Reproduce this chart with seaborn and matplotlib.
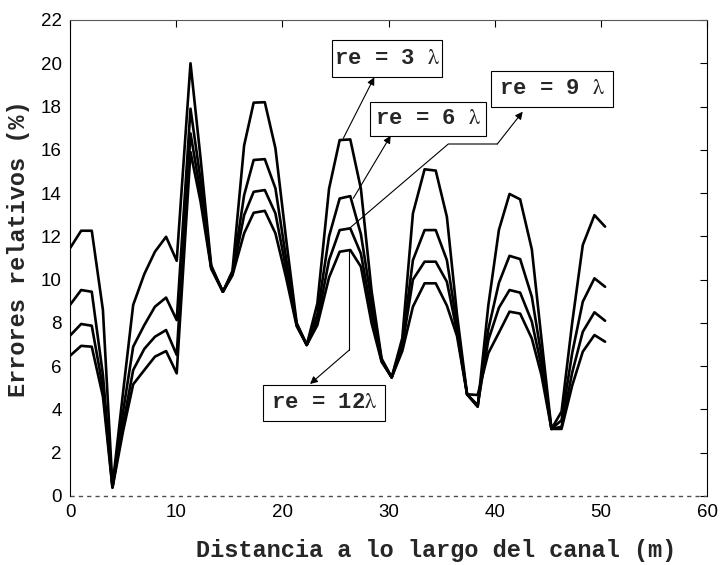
import numpy as np
import pandas as pd
import matplotlib
matplotlib.use("Agg")
import matplotlib.pyplot as plt
from matplotlib.patches import Rectangle
import seaborn as sns

# ---------------- data ----------------
distance = [0.0, 1.05, 2.05, 3.1, 4.0, 5.0, 5.95, 7.0, 8.0, 9.05,
            10.05, 11.35, 12.3, 13.3, 14.4, 15.3, 16.4, 17.3, 18.35, 19.35,
            20.35, 21.35, 22.3, 23.3, 24.4, 25.4, 26.4, 27.4, 28.4, 29.35,
            30.3, 31.3, 32.3, 33.4, 34.45, 35.5, 36.45, 37.4, 38.4, 39.4,
            40.4, 41.4, 42.4, 43.5, 44.4, 45.35, 46.3, 47.3, 48.3, 49.4,
            50.4]

err_re3 = [11.45, 12.26, 12.26, 8.6, 0.45, 4.8, 8.83, 10.26, 11.29, 11.98,
           10.87, 20.0, 15.6, 10.65, 9.44, 10.4, 16.2, 18.18, 18.2, 16.07,
           11.9, 8.0, 6.98, 8.9, 14.2, 16.45, 16.48, 14.2, 9.5, 6.35,
           5.48, 7.3, 13.06, 15.1, 15.04, 12.9, 8.4, 4.7, 4.13, 8.8,
           12.3, 13.96, 13.71, 11.4, 7.3, 3.1, 3.9, 8.0, 11.6, 12.98,
           12.45]

err_re6 = [8.83, 9.52, 9.44, 5.6, 0.42, 3.9, 6.9, 7.9, 8.75, 9.17,
           8.13, 17.9, 14.6, 10.6, 9.44, 10.3, 13.9, 15.53, 15.57, 14.22,
           11.0, 7.95, 6.98, 8.4, 12.0, 13.75, 13.86, 12.1, 9.0, 6.3,
           5.48, 7.1, 10.9, 12.29, 12.29, 10.9, 7.9, 4.7, 4.13, 7.7,
           9.85, 11.1, 10.95, 9.21, 6.5, 3.1, 3.5, 6.6, 8.98, 10.06,
           9.67]

err_re9 = [7.41, 7.95, 7.87, 5.0, 0.4, 3.3, 5.82, 6.8, 7.36, 7.67,
           6.52, 16.76, 14.0, 10.55, 9.44, 10.25, 12.98, 14.06, 14.14, 13.06,
           10.5, 7.9, 6.98, 8.1, 10.9, 12.29, 12.37, 11.2, 8.5, 6.25,
           5.48, 6.9, 10.0, 10.83, 10.83, 9.9, 7.6, 4.7, 4.2, 7.2,
           8.7, 9.52, 9.4, 8.06, 6.0, 3.1, 3.2, 5.7, 7.59, 8.49,
           8.1]

err_re12 = [6.48, 6.94, 6.9, 4.6, 0.38, 3.0, 5.16, 5.82, 6.44, 6.7,
            5.67, 15.9, 13.6, 10.5, 9.44, 10.2, 12.14, 13.09, 13.18, 12.14,
            10.1, 7.85, 6.98, 7.9, 10.1, 11.29, 11.37, 10.6, 8.0, 6.2,
            5.48, 6.7, 8.75, 9.83, 9.83, 8.8, 7.4, 4.7, 4.67, 6.6,
            7.55, 8.52, 8.43, 7.28, 5.6, 3.1, 3.1, 5.1, 6.67, 7.44,
            7.13]

series_names = ["re = 3 λ", "re = 6 λ", "re = 9 λ", "re = 12λ"]
box_labels = ["re = 3 $\\mathrm{\\lambda}$", "re = 6 $\\mathrm{\\lambda}$",
              "re = 9 $\\mathrm{\\lambda}$", "re = 12$\\mathrm{\\lambda}$"]
x_ticks = [0, 10, 20, 30, 40, 50, 60]
y_ticks = [0, 2, 4, 6, 8, 10, 12, 14, 16, 18, 20, 22]
x_label = "Distancia a lo largo del canal (m)"
y_label = "Errores relativos (%)"

rows = []
for name, vals in zip(series_names, [err_re3, err_re6, err_re9, err_re12]):
    for d, v in zip(distance, vals):
        rows.append({"distancia": d, "error": v, "serie": name})
df = pd.DataFrame(rows)

# ---------------- style ----------------
sns.set_style("white")
plt.rcParams["font.family"] = ["Liberation Sans", "DejaVu Sans"]
plt.rcParams["mathtext.fontset"] = "stix"

W, H = 720, 565
fig = plt.figure(figsize=(W / 100, H / 100), dpi=100)
L, R, T, B = 70, 707, 20, 496
ax = fig.add_axes([L / W, 1 - B / H, (R - L) / W, (B - T) / H])

sns.lineplot(data=df, x="distancia", y="error", hue="serie",
             palette=["black"] * 4, linewidth=1.9, legend=False,
             estimator=None, errorbar=None, sort=False, ax=ax)

ax.set_xlim(0, 60)
ax.set_ylim(0, 22)
ax.set_xticks(x_ticks)
ax.set_yticks(y_ticks)
ax.tick_params(direction="in", top=True, right=True, length=5, width=0.8,
               labelsize=13.5, pad=6, colors="black")
for s in ["left", "right", "top"]:
    ax.spines[s].set_visible(True)
    ax.spines[s].set_color("black")
    ax.spines[s].set_linewidth(0.8)
ax.spines["top"].set_color("0.35")
ax.spines["bottom"].set_visible(False)
ax.axhline(0, color="0.3", lw=1.0, ls=(0, (3, 3)), clip_on=False, zorder=1)

mono = dict(family=["Liberation Mono", "DejaVu Sans Mono"], weight="bold")
ax.set_xlabel(x_label, fontsize=17, va="center", **mono)
ax.set_ylabel(y_label, fontsize=17, va="center", **mono)
ax.xaxis.set_label_coords((436 - L) / (R - L), (B - 550) / (B - T))
ax.yaxis.set_label_coords((19 - L) / (R - L), (B - 249) / (B - T))


def px(xp, yp):
    """pixel position of the reference -> data coordinates"""
    sx = (R - L) / 60.0
    sy = (B - T) / 22.0
    return ((xp - L) / sx, (B - yp) / sy)


# boxes: (left, right, top, bottom) in pixels
boxes = [(332, 442, 40, 77), (370, 486, 102, 136),
         (491, 613, 71, 107), (263, 385, 385, 421)]
for lab, (l, r, t, b) in zip(box_labels, boxes):
    x0, y0 = px(l, b)
    x1, y1 = px(r, t)
    ax.add_patch(Rectangle((x0, y0), x1 - x0, y1 - y0, fc="white",
                           ec="black", lw=0.8, zorder=6, clip_on=False))
    ax.text((x0 + x1) / 2, (y0 + y1) / 2, lab, ha="center", va="center",
            fontsize=16, zorder=7, **mono)

# leader lines (polyline, last segment with arrow)
leaders = [
    [(343.3, 138.3), (374.3, 77.3)],
    [(353.3, 198.3), (390.7, 135.7)],
    [(348.3, 229.3), (448.3, 144.0), (497.3, 144.0), (522.7, 111.7)],
    [(349.3, 250.0), (349.3, 350.0), (310.0, 384.0)],
]
for pts in leaders:
    dpts = [px(*p) for p in pts]
    if len(dpts) > 2:
        xs, ys = zip(*dpts[:-1])
        ax.plot(xs, ys, color="black", lw=0.8, zorder=5)
    ax.annotate("", xy=dpts[-1], xytext=dpts[-2],
                arrowprops=dict(arrowstyle="-|>", color="black", lw=0.8,
                                mutation_scale=11, shrinkA=0, shrinkB=0),
                zorder=5)

fig.savefig("out.png", dpi=100)
